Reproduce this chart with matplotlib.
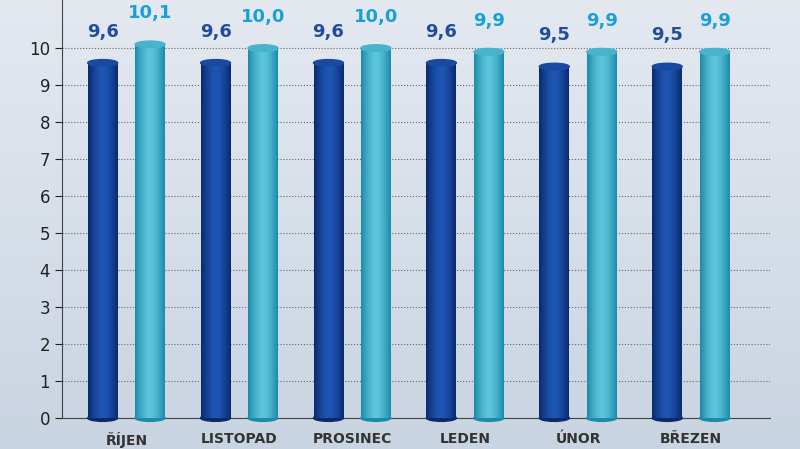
import matplotlib
matplotlib.use("Agg")
import matplotlib.pyplot as plt
import numpy as np
from matplotlib.patches import Ellipse, Rectangle

months = ["ŘÍJEN", "LISTOPAD", "PROSINEC", "LEDEN", "ÚNOR", "BŘEZEN"]
first = [9.6, 9.6, 9.6, 9.6, 9.5, 9.5]
second = [10.1, 10.0, 10.0, 9.9, 9.9, 9.9]

fig = plt.figure(figsize=(8, 4.49), dpi=100)
bg = fig.add_axes([0, 0, 1, 1])
top = np.array(matplotlib.colors.to_rgb("#e4e9f0"))
bot = np.array(matplotlib.colors.to_rgb("#c9d4e2"))
t = np.linspace(0, 1, 100)[:, None]
bg.imshow((top * (1 - t) + bot * t)[:, None, :], aspect="auto", extent=[0, 1, 0, 1])
bg.axis("off")

ax = fig.add_axes([0.0775, 0.069, 0.885, 0.931])
ax.set_facecolor("none")
ax.tick_params(axis="y", labelsize=12, length=5, colors="#222222")
ax.tick_params(axis="x", length=0, labelsize=10, pad=10)
ax.set_yticks(range(11))
ax.set_xticks(range(len(months)))
ax.set_xticklabels(months, fontweight="bold", color="#333333")
for s in ["top", "right"]:
    ax.spines[s].set_visible(False)
ax.spines["left"].set_color("#444444")
ax.spines["bottom"].set_color("#444444")
ax.grid(axis="y", linestyle=":", color="#666666", linewidth=0.8)
ax.set_axisbelow(True)

w = 0.265
off = 0.21
shade = np.abs(np.linspace(-1, 1, 64)) ** 1.5

def cylinder(x, h, c_mid, c_edge, c_top):
    c_mid = np.array(matplotlib.colors.to_rgb(c_mid))
    c_edge = np.array(matplotlib.colors.to_rgb(c_edge))
    grad = (c_mid[None, :] * (1 - shade[:, None]) + c_edge[None, :] * shade[:, None])[None, :, :]
    im = ax.imshow(grad, aspect="auto", extent=[x - w / 2, x + w / 2, 0, h], zorder=3)
    im.set_clip_path(Rectangle((x - w / 2, 0), w, h, transform=ax.transData))
    ax.add_patch(Ellipse((x, 0), w, 0.18, color=c_edge, zorder=2.9, clip_on=False))
    ax.add_patch(Ellipse((x, h), w, 0.18, color=c_top, zorder=4))

for i in range(len(months)):
    cylinder(i - off, first[i], "#1f57b5", "#0a2a6e", "#1a4aa0")
    cylinder(i + off, second[i], "#5cc6dc", "#1d8aa8", "#48b4cc")
    ax.text(i - off, first[i] + 0.6, f"{first[i]:.1f}".replace(".", ","), ha="center", va="bottom",
            fontsize=13, fontweight="bold", color="#1f4e9c")
    ax.text(i + off, second[i] + 0.6, f"{second[i]:.1f}".replace(".", ","), ha="center", va="bottom",
            fontsize=13, fontweight="bold", color="#1aa0d8")

ax.set_xlim(-0.57, 5.7)
ax.set_ylim(0, 11.3)
fig.savefig("out.png", dpi=100)
